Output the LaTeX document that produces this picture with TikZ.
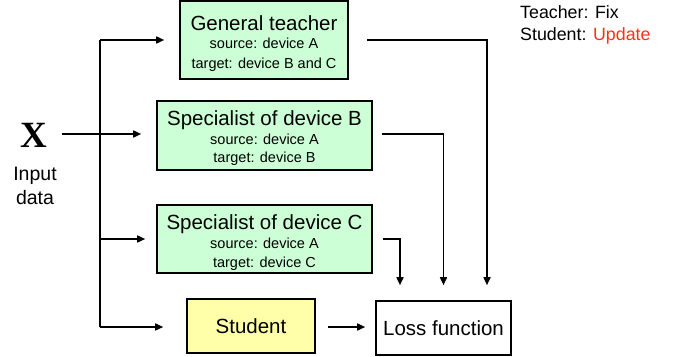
\documentclass[tikz,border=0pt]{standalone}
\usepackage{fontspec}
\setmainfont{Liberation Sans}
\newfontfamily\xfont{Liberation Serif}
\usetikzlibrary{arrows.meta}
\definecolor{mint}{RGB}{204,255,214}
\definecolor{paleyellow}{RGB}{255,255,170}
\definecolor{updred}{RGB}{250,50,20}

\begin{document}
\begin{tikzpicture}[x=1pt,y=-1pt,
  box/.style={draw,line width=1.6pt,inner sep=0pt},
  model/.style={box,fill=mint},
  titletext/.style={inner sep=0pt,anchor=base,font=\fontsize{20.5}{24}\selectfont},
  subtext/.style={inner sep=0pt,anchor=base,font=\fontsize{14.5}{17}\selectfont},
  plaintext/.style={inner sep=0pt,anchor=base,font=\fontsize{19.5}{23}\selectfont},
  wire/.style={line width=1.6pt},
  arr/.style={wire,-{Triangle[length=8pt,width=7pt]}}]

\useasboundingbox (0,0) rectangle (674,356);

% input
\node[inner sep=0pt,font=\xfont\bfseries\fontsize{37}{37}\selectfont] (x) at (34,135) {X};
\node[plaintext] (in1) at (35,180) {Input};
\node[plaintext] (in2) at (35,204) {data};

% teacher and specialists
\node[model,minimum width=168pt,minimum height=78pt] (teacher) at (264,40) {};
\node[titletext] (teacher-name) at (264,30) {General teacher};
\node[subtext] (teacher-src) at (264,48) {source: device A};
\node[subtext] (teacher-tgt) at (264,68) {target: device B and C};

\node[model,minimum width=215pt,minimum height=69pt] (specB) at (264.5,135.5) {};
\node[titletext] (specB-name) at (264.5,125) {Specialist of device B};
\node[subtext] (specB-src) at (264.5,144) {source: device A};
\node[subtext] (specB-tgt) at (264.5,162) {target: device B};

\node[model,minimum width=215pt,minimum height=68pt] (specC) at (264.5,239) {};
\node[titletext] (specC-name) at (264.5,229) {Specialist of device C};
\node[subtext] (specC-src) at (264.5,248) {source: device A};
\node[subtext] (specC-tgt) at (264.5,267) {target: device C};

% student and loss
\node[box,fill=paleyellow,minimum width=128pt,minimum height=54pt,
      font=\fontsize{20.5}{24}\selectfont] (student) at (251,326) {Student};
\node[box,fill=white,minimum width=135pt,minimum height=54pt,
      font=\fontsize{20.5}{24}\selectfont] (loss) at (443.5,328) {Loss function};

% legend
\node[inner sep=0pt,anchor=base west,font=\fontsize{17.8}{22}\selectfont] (leg1) at (520,18) {Teacher: Fix};
\node[inner sep=0pt,anchor=base west,font=\fontsize{17.8}{22}\selectfont] (leg2) at (520,40) {Student: \textcolor{updred}{Update}};

% input distribution
\coordinate (busTop) at (100,40);
\coordinate (busC) at (100,239);
\coordinate (busBot) at (100,327);
\draw[arr,shorten <=14pt,shorten >=15pt] (x.east |- 0,134) -- (specB.west |- 0,134);
\draw[wire] (busTop) -- (busBot);
\draw[arr,shorten >=15pt] (busTop) -- (teacher.west);
\draw[arr,shorten >=11pt] (busC) -- (specC.west);
\draw[arr,shorten >=23pt] (busBot) -- (student.west |- busBot);

% outputs to the loss
\draw[arr,shorten >=15pt] ([xshift=18pt]teacher.east) -| ([xshift=43.5pt]loss.north);
\draw[arr,shorten >=15pt] ([xshift=9pt]specB.east |- 0,134) -| (loss.north);
\draw[arr,shorten >=15pt] ([xshift=10pt]specC.east) -| ([xshift=-43.5pt]loss.north);
\draw[arr,shorten <=12pt,shorten >=10pt] (student.east |- busBot) -- (loss.west |- busBot);
\end{tikzpicture}
\end{document}
